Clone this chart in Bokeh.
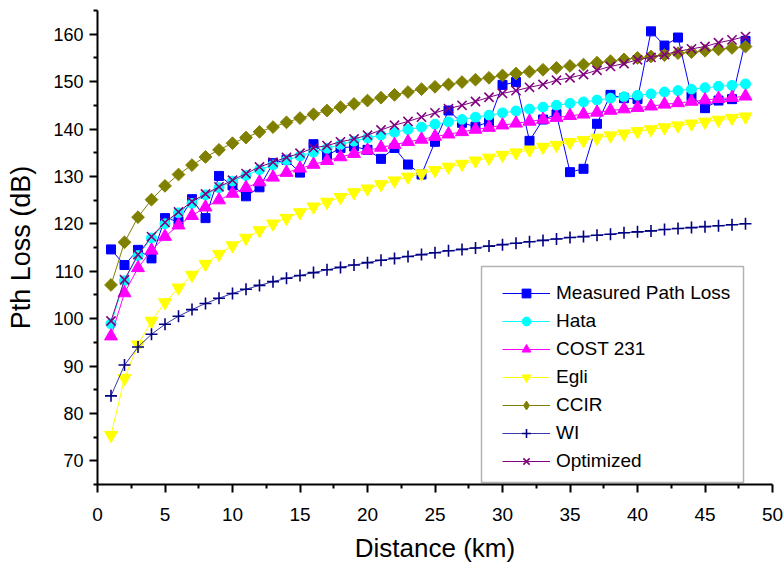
from bokeh.plotting import figure
from bokeh.models import (Range1d, FixedTicker, Legend, LegendItem, BoxAnnotation,
                          ColumnDataSource, CDSView, IndexFilter)
from bokeh.embed import file_html
from bokeh.resources import INLINE
import numpy as np

distance = list(range(1, 49))

measured = [114.6, 111.3, 114.5, 112.7, 121.2, 120.5, 125.2, 121.2, 130.1, 128.1,
            125.8, 127.7, 132.8, 133.5, 130.8, 136.8, 134.4, 136.0, 136.3, 135.6,
            133.7, 136.0, 132.5, 130.4, 137.3, 143.9, 141.3, 140.5, 141.5, 149.3,
            149.9, 137.5, 142.0, 143.1, 130.9, 131.6, 141.1, 147.2, 146.5, 146.3,
            160.6, 157.6, 159.3, 146.9, 144.4, 146.0, 146.3, 158.6]

hata = [98.9, 108.0, 113.3, 117.0, 120.0, 122.3, 124.3, 126.1, 127.6, 129.0,
        130.2, 131.4, 132.4, 133.4, 134.3, 135.1, 135.9, 136.7, 137.4, 138.1,
        138.7, 139.3, 139.9, 140.4, 141.0, 141.5, 142.0, 142.5, 142.9, 143.4,
        143.8, 144.2, 144.6, 145.0, 145.4, 145.7, 146.1, 146.5, 146.8, 147.1,
        147.4, 147.8, 148.1, 148.4, 148.7, 149.0, 149.2, 149.5]

cost231 = [96.3, 105.4, 110.7, 114.4, 117.3, 119.7, 121.7, 123.5, 125.0, 126.4,
           127.6, 128.8, 129.8, 130.8, 131.7, 132.5, 133.3, 134.1, 134.8, 135.5,
           136.1, 136.7, 137.3, 137.8, 138.4, 138.9, 139.4, 139.9, 140.3, 140.8,
           141.2, 141.6, 142.0, 142.4, 142.8, 143.1, 143.5, 143.9, 144.2, 144.5,
           144.8, 145.2, 145.5, 145.8, 146.1, 146.4, 146.6, 146.9]

egli = [75.4, 87.4, 94.5, 99.5, 103.4, 106.5, 109.2, 111.5, 113.6, 115.4,
        117.0, 118.6, 120.0, 121.2, 122.4, 123.6, 124.6, 125.6, 126.6, 127.4,
        128.3, 129.1, 129.9, 130.6, 131.3, 132.0, 132.6, 133.3, 133.9, 134.5,
        135.0, 135.6, 136.2, 136.6, 137.2, 137.6, 138.1, 138.6, 139.0, 139.5,
        139.9, 140.3, 140.7, 141.1, 141.5, 141.9, 142.3, 142.6]

ccir = [107.1, 116.1, 121.4, 125.1, 128.0, 130.4, 132.4, 134.1, 135.6, 137.0,
        138.2, 139.4, 140.4, 141.4, 142.3, 143.1, 143.9, 144.6, 145.3, 146.0,
        146.6, 147.2, 147.8, 148.4, 148.9, 149.4, 149.9, 150.4, 150.8, 151.3,
        151.7, 152.1, 152.5, 152.9, 153.3, 153.6, 154.0, 154.3, 154.7, 155.0,
        155.3, 155.6, 156.0, 156.2, 156.5, 156.8, 157.1, 157.4]

wi = [83.7, 90.2, 94.0, 96.7, 98.8, 100.5, 101.9, 103.2, 104.3, 105.3,
      106.2, 107.0, 107.8, 108.5, 109.1, 109.7, 110.3, 110.8, 111.3, 111.8,
      112.3, 112.7, 113.1, 113.5, 113.9, 114.3, 114.6, 114.9, 115.3, 115.6,
      115.9, 116.2, 116.5, 116.8, 117.1, 117.3, 117.6, 117.8, 118.1, 118.3,
      118.5, 118.8, 119.0, 119.2, 119.4, 119.6, 119.8, 120.0]

optimized = [99.5, 108.2, 113.5, 117.3, 120.3, 122.5, 124.7, 126.3, 127.8, 129.2,
             130.6, 132.0, 133.0, 134.0, 134.9, 136.0, 136.5, 137.3, 137.9, 138.7,
             139.8, 140.8, 141.6, 142.5, 143.4, 144.3, 145.0, 145.8, 146.7, 147.5,
             148.1, 148.8, 149.4, 150.3, 150.8, 151.5, 152.4, 153.2, 153.8, 154.6,
             155.1, 155.7, 156.4, 156.9, 157.4, 158.2, 158.8, 159.5]

x_ticks = [0, 5, 10, 15, 20, 25, 30, 35, 40, 45, 50]
y_ticks = [70, 80, 90, 100, 110, 120, 130, 140, 150, 160]

FONT = "Liberation Sans"

p = figure(width=783, height=565, output_backend="svg", toolbar_location=None,
           x_range=Range1d(0, 50), y_range=Range1d(65, 165),
           min_border_left=97, min_border_top=10, min_border_right=11,
           min_border_bottom=73)
p.outline_line_color = None
p.xgrid.visible = False
p.ygrid.visible = False
p.background_fill_color = "white"
p.border_fill_color = "white"

for ax in (p.xaxis[0], p.yaxis[0]):
    ax.axis_line_width = 2
    ax.axis_line_color = "black"
    ax.major_tick_line_width = 2
    ax.minor_tick_line_width = 2
    ax.major_tick_in = 0
    ax.major_tick_out = 8
    ax.minor_tick_in = 0
    ax.minor_tick_out = 4
    ax.major_label_text_color = "black"
    ax.axis_label_text_color = "black"
    ax.axis_label_text_font_style = "normal"

p.xaxis.ticker = FixedTicker(ticks=x_ticks, minor_ticks=[2.5 + 5 * i for i in range(10)])
p.yaxis.ticker = FixedTicker(ticks=y_ticks, minor_ticks=[65 + 10 * i for i in range(11)])
p.xaxis.axis_label = "Distance (km)"
p.yaxis.axis_label = "Pth Loss (dB)"
p.xaxis.major_label_text_font = FONT
p.xaxis.axis_label_text_font = FONT
p.xaxis.major_label_text_font_size = "19px"
p.xaxis.axis_label_text_font_size = "26px"
p.xaxis.major_label_standoff = 15
p.xaxis.axis_label_standoff = 9
p.yaxis.major_label_text_font = FONT
p.yaxis.axis_label_text_font = FONT
p.yaxis.major_label_text_font_size = "18px"
p.yaxis.axis_label_text_font_size = "27px"
p.yaxis.major_label_standoff = 6
p.yaxis.axis_label_standoff = 14

# name, values, line colour, marker colour, plot marker, size, angle, marker line width, legend marker
series = [
    ("Measured Path Loss", measured, "#0000FF", "#0000FF", "square", 9, 0.0, 1, None),
    ("Hata", hata, "#00FFFF", "#00FFFF", "circle", 10, 0.0, 1, None),
    ("COST 231", cost231, "#FF00FF", "#FF00FF", "triangle", 13, 0.0, 1, None),
    ("Egli", egli, "#FFFF00", "#FFFF00", "inverted_triangle", 13, 0.0, 1, None),
    ("CCIR", ccir, "#808000", "#808000", "square", 9, np.pi / 4, 1, "diamond"),
    ("WI", wi, "#3838A8", "#000080", "cross", 12, 0.0, 1.6, None),
    ("Optimized", optimized, "#800080", "#800080", "x", 13, 0.0, 1.6, None),
]

items = []
for name, vals, lcol, mcol, marker, size, ang, mlw, leg_marker in series:
    src = ColumnDataSource(data=dict(d=distance, v=vals))
    r1 = p.line("d", "v", source=src, line_color=lcol, line_width=1)
    r2 = p.scatter("d", "v", source=src, marker=marker, size=size, angle=ang,
                   fill_color=mcol, line_color=mcol, line_width=mlw)
    rends = [r1, r2]
    if leg_marker is not None:
        # legend proxy: drawn only at the first point, hidden inside the rotated square
        r3 = p.scatter("d", "v", source=src, marker=leg_marker, size=size,
                       fill_color=mcol, line_color=mcol, line_width=mlw,
                       view=CDSView(filter=IndexFilter(indices=[0])))
        rends = [r1, r3]
    items.append(LegendItem(label=name, renderers=rends))

# legend frame (layout only)
frame_box = BoxAnnotation(left=481, right=743, top=266, bottom=482,
                          left_units="canvas", right_units="canvas",
                          top_units="canvas", bottom_units="canvas",
                          fill_color="white", fill_alpha=1,
                          line_color="black", line_width=1.5)
p.add_layout(frame_box)

legend = Legend(items=items, location=(405, 12))
legend.label_text_font = FONT
legend.label_text_font_size = "19px"
legend.label_text_color = "black"
legend.glyph_width = 48
legend.glyph_height = 22
legend.label_height = 22
legend.label_standoff = 6
legend.spacing = 6
legend.padding = 13
legend.margin = 0
legend.border_line_color = None
legend.background_fill_alpha = 0
p.add_layout(legend, "center")

open("out.html", "w").write(file_html(p, INLINE))
